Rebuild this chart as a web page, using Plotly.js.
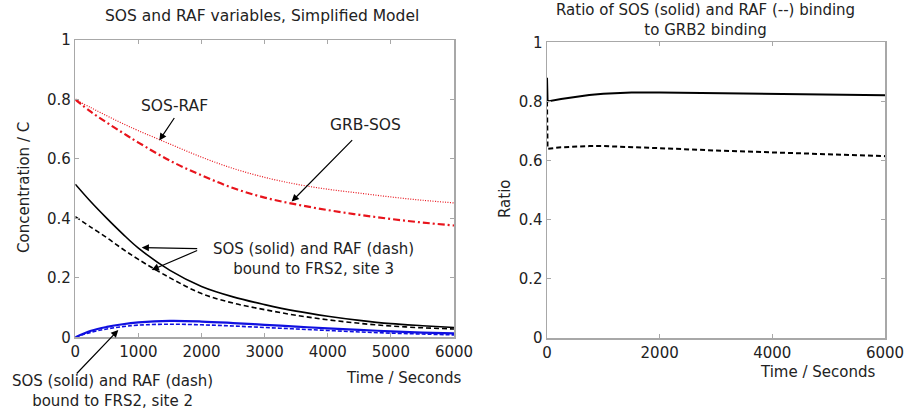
<!DOCTYPE html>
<html>
<head>
<meta charset="utf-8">
<script src="https://cdn.plot.ly/plotly-3.0.1.min.js"></script>
<style>html,body{margin:0;padding:0;background:#fff;}#chart{width:910px;height:412px;}</style>
</head>
<body>
<div id="chart"></div>
<script>
// ---- Left panel data (time in seconds, concentration / C) ----
const tLeft = [0, 250, 500, 750, 1000, 1500, 2000, 2500, 3000, 3500, 4000, 4500, 5000, 5500, 6000];
const sosRaf = [0.800, 0.772, 0.745, 0.719, 0.695, 0.650, 0.606, 0.568, 0.538, 0.515, 0.498, 0.485, 0.472, 0.461, 0.452];
const grbSos = [0.800, 0.758, 0.722, 0.688, 0.655, 0.594, 0.545, 0.502, 0.470, 0.447, 0.428, 0.412, 0.398, 0.386, 0.376];
const sosSite3 = [0.515, 0.455, 0.400, 0.348, 0.300, 0.225, 0.171, 0.136, 0.110, 0.088, 0.071, 0.057, 0.046, 0.039, 0.033];
const rafSite3 = [0.406, 0.370, 0.335, 0.297, 0.262, 0.200, 0.147, 0.115, 0.093, 0.074, 0.059, 0.047, 0.038, 0.032, 0.028];
const sosSite2 = [0.000, 0.022, 0.035, 0.044, 0.050, 0.055, 0.053, 0.048, 0.042, 0.036, 0.030, 0.025, 0.020, 0.016, 0.013];
const rafSite2 = [0.000, 0.017, 0.028, 0.036, 0.041, 0.044, 0.042, 0.038, 0.033, 0.028, 0.023, 0.018, 0.014, 0.011, 0.008];

// ---- Right panel data (ratio) ----
const tRight = [0, 10, 250, 500, 750, 1000, 1500, 2000, 3000, 4000, 5000, 6000];
const ratioSos = [0.880, 0.800, 0.808, 0.816, 0.822, 0.826, 0.830, 0.830, 0.828, 0.825, 0.823, 0.821];
const ratioRaf = [0.800, 0.640, 0.645, 0.648, 0.649, 0.649, 0.646, 0.642, 0.634, 0.627, 0.620, 0.615];

// ---- Text ----
const leftTitle = "SOS and RAF variables, Simplified Model";
const rightTitle = "Ratio of SOS (solid) and RAF (--) binding<br>to GRB2 binding";
const xTitle = "Time / Seconds";
const yTitleLeft = "Concentration / C";
const yTitleRight = "Ratio";
const labelSosRaf = "SOS-RAF";
const labelGrbSos = "GRB-SOS";
const labelSite3 = "SOS (solid) and RAF (dash)<br>bound to FRS2, site 3";
const labelSite2 = "SOS (solid) and RAF (dash)<br>bound to FRS2, site 2";

const FONT = "'DejaVu Sans', Arial, sans-serif";
const TXT = "#222";
const AX = "#a8a8a8";

function line(x, y, color, width, dash, xa, ya, shape) {
  return {x: x, y: y, type: "scatter", mode: "lines", xaxis: xa, yaxis: ya,
          line: {color: color, width: width, dash: dash, shape: shape, smoothing: 1},
          hoverinfo: "skip", showlegend: false};
}

const traces = [
  line(tLeft, sosRaf, "#e8141c", 1.2, "1px,1.5px", "x", "y", "spline"),
  line(tLeft, grbSos, "#e8141c", 2.2, "7px,3px,2px,3px", "x", "y", "spline"),
  line(tLeft, sosSite3, "#000", 1.6, "solid", "x", "y", "spline"),
  line(tLeft, rafSite3, "#000", 1.6, "5px,3px", "x", "y", "spline"),
  line(tLeft, sosSite2, "#1010e0", 2.2, "solid", "x", "y", "spline"),
  line(tLeft, rafSite2, "#1010e0", 1.6, "4px,2px", "x", "y", "spline"),
  line(tRight, ratioSos, "#000", 2, "solid", "x2", "y2", "linear"),
  line(tRight, ratioRaf, "#000", 2, "5px,3px", "x2", "y2", "linear")
];

function axis(extra) {
  return Object.assign({
    showgrid: false, zeroline: false, showline: true, mirror: "ticks",
    linecolor: AX, linewidth: 1.5, ticks: "inside", ticklen: 4, tickcolor: AX, tickwidth: 1,
    tickfont: {family: FONT, size: 15, color: TXT}, fixedrange: true
  }, extra);
}

const W = 910, H = 412;
const px = v => v / W;
const py = v => 1 - v / H;

function txt(text, x, y, size, extra) {
  return Object.assign({text: text, xref: "paper", yref: "paper", x: px(x), y: py(y),
    xanchor: "center", yanchor: "middle", showarrow: false,
    font: {family: FONT, size: size, color: TXT}}, extra || {});
}
function arrow(x, y, ax, ay) {
  return {text: "", xref: "x", yref: "y", x: x, y: y, ax: ax, ay: ay, showarrow: true,
    arrowhead: 2, arrowsize: 1.2, arrowwidth: 1.2, arrowcolor: "#000", standoff: 0};
}

const layout = {
  width: W, height: H, margin: {l: 0, r: 0, t: 0, b: 0},
  paper_bgcolor: "#fff", plot_bgcolor: "#fff", showlegend: false,
  xaxis: axis({domain: [px(75.3), px(454)], range: [0, 6000], dtick: 1000, tick0: 0, anchor: "y"}),
  yaxis: axis({domain: [py(337.3), py(40)], range: [0, 1], dtick: 0.2, tick0: 0, anchor: "x"}),
  xaxis2: axis({domain: [px(547), px(885)], range: [0, 6000], dtick: 2000, tick0: 0, anchor: "y2"}),
  yaxis2: axis({domain: [py(338), py(42.3)], range: [0, 1], dtick: 0.2, tick0: 0, anchor: "x2"}),
  annotations: [
    txt(leftTitle, 262, 16, 15.5),
    txt(rightTitle, 705, 20, 15),
    txt(xTitle, 404, 378, 15),
    txt(xTitle, 818, 372, 15),
    txt(yTitleLeft, 24, 188, 15, {textangle: -90}),
    txt(yTitleRight, 505, 199, 15, {textangle: -90}),
    txt(labelSosRaf, 174, 106, 15.5),
    txt(labelGrbSos, 365, 125, 15.5),
    txt(labelSite3, 313, 259, 15),
    txt(labelSite2, 112, 391, 15),
    arrow(1331, 0.662, 16, -24),
    arrow(3428, 0.4566, 62, -63),
    arrow(1052, 0.3017, 57, 1),
    arrow(1210, 0.2266, 47, -20),
    arrow(681, 0.0246, -43, 45)
  ]
};

Plotly.newPlot("chart", traces, layout, {displayModeBar: false, staticPlot: true});
</script>
</body>
</html>
